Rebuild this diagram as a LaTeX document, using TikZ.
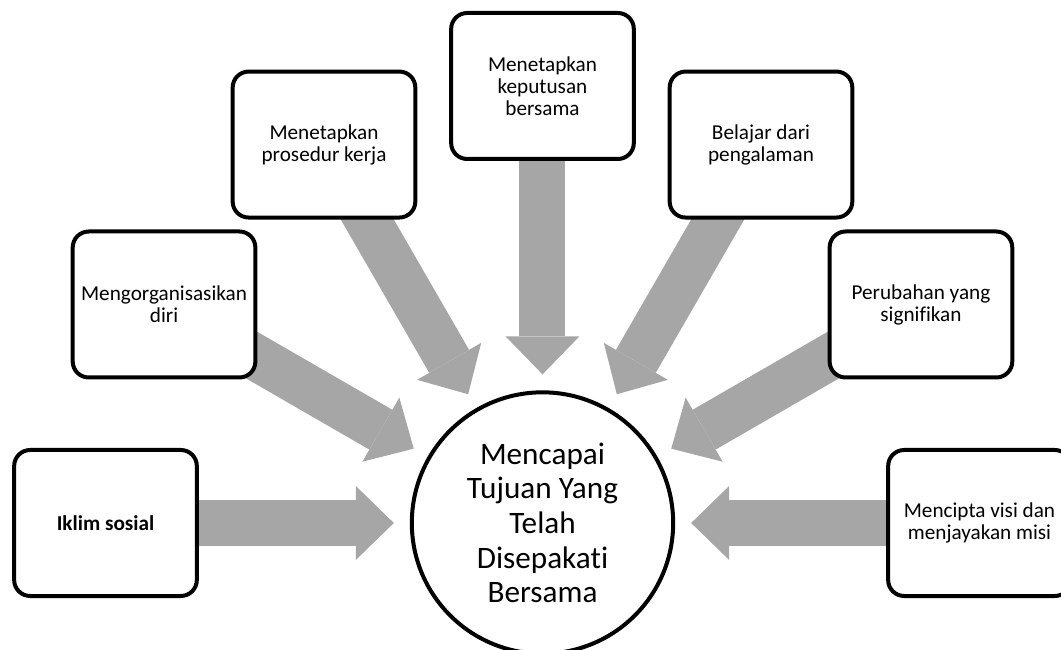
\documentclass[tikz,border=0pt]{standalone}
\usepackage{fontspec}
\setmainfont{Carlito}[Ligatures=CommonOff]
\usepackage{xcolor}
\usepackage{tikz}
\usetikzlibrary{arrows.meta,backgrounds}
\definecolor{arrowgray}{RGB}{166,166,166}

\begin{document}
\begin{tikzpicture}[
    x=0.75pt, y=0.75pt,
    box/.style={rectangle, draw=black, line width=3pt, rounded corners=12pt, fill=white, minimum width=137pt, minimum height=109.5pt, align=center, font=\fontsize{15.9pt}{16.5pt}\selectfont},
    goal/.style={circle, draw=black, line width=3pt, fill=white, minimum size=196pt, inner sep=0pt, align=center, font=\fontsize{23.4pt}{26pt}\selectfont},
    arrow/.style={draw=arrowgray, line width=34.5pt, -{Triangle[length=28.5pt, width=55.5pt, line width=0pt]}, shorten >=12pt}
]
\useasboundingbox (-542.5,-127) rectangle (518.5,523);

% Center: the shared goal
\node[goal] (goal) at (0,0) {Mencapai\\Tujuan Yang\\Telah\\Disepakati\\Bersama};

% Surrounding factors, on a half ring
\node[box] (iklim) at (180:437) {\textbf{Iklim sosial}};

\node[box] (organisasi) at (150:437) {Mengorganisasikan\\diri};

\node[box] (prosedur) at (120:437) {Menetapkan\\prosedur kerja};

\node[box] (keputusan) at (90:437) {Menetapkan\\keputusan\\bersama};

\node[box] (belajar) at (60:437) {Belajar dari\\pengalaman};

\node[box] (perubahan) at (30:437) {Perubahan yang\\signifikan};

\node[box] (visi) at (0:437) {Mencipta visi dan\\menjayakan misi};

% Block arrows into the goal
\begin{scope}[on background layer]
\draw[arrow] (iklim.center) -- (goal);
\draw[arrow] (organisasi.center) -- (goal);
\draw[arrow] (prosedur.center) -- (goal);
\draw[arrow] (keputusan.center) -- (goal);
\draw[arrow] (belajar.center) -- (goal);
\draw[arrow] (perubahan.center) -- (goal);
\draw[arrow] (visi.center) -- (goal);
\end{scope}

\end{tikzpicture}
\end{document}
